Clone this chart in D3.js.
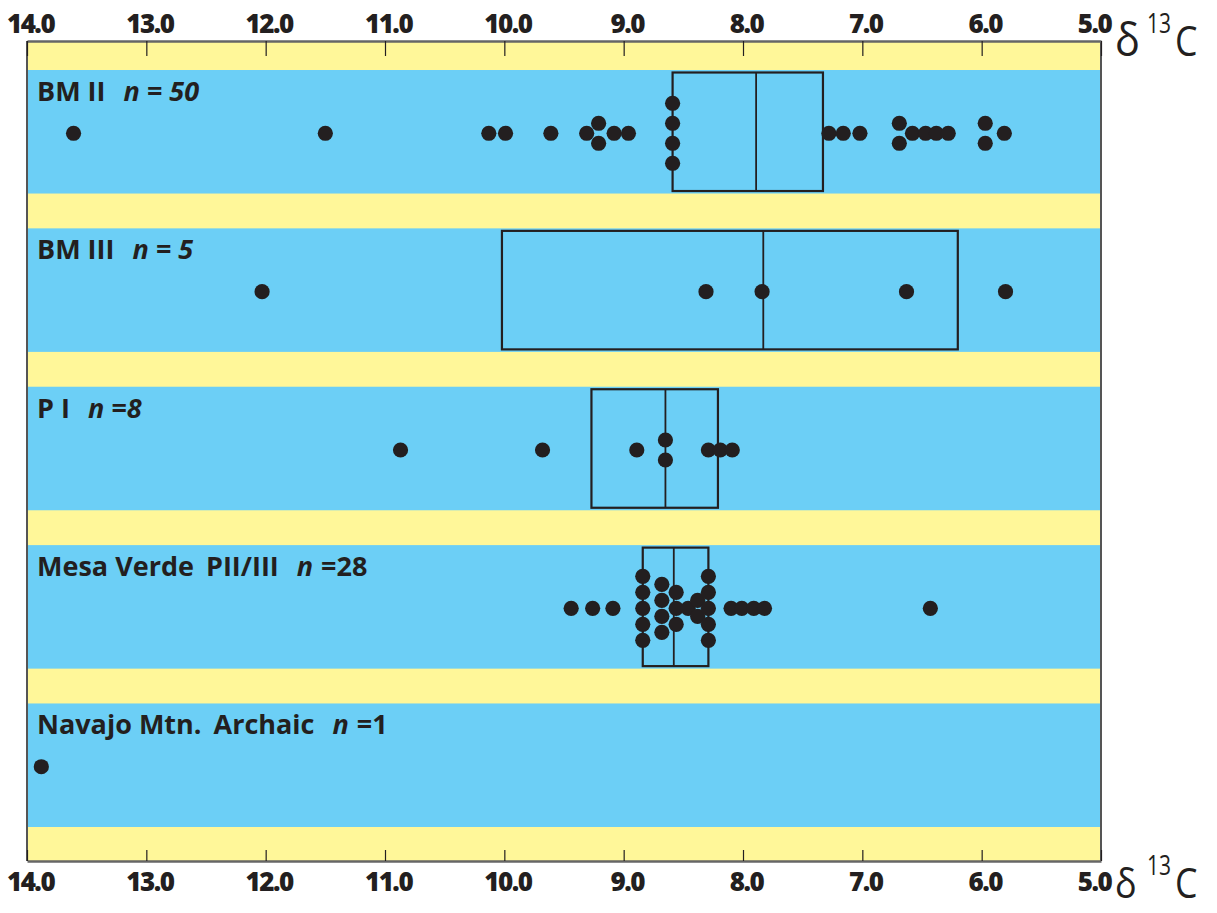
<!DOCTYPE html>
<html>
<head>
<meta charset="utf-8">
<script src="https://cdn.jsdelivr.net/npm/d3@7"></script>
<style>
  body { margin: 0; background: #fff; }
  svg { display: block; }
  text { font-family: 'Open Sans', sans-serif; fill: #231f20; }
</style>
</head>
<body>
<svg id="chart" width="1217" height="913"></svg>
<script>
// rows, top to bottom
const groups = ['BM II', 'BM III', 'P I', 'Mesa Verde PII/III', 'Navajo Mtn. Archaic'];
const labelNames = [['BM II'], ['BM III'], ['P I'], ['Mesa Verde', 'PII/III'], ['Navajo Mtn.', 'Archaic']];
const labelN = [['n = 50', ''], ['n = 5', ''], ['n =8', ''], ['n', '=28'], ['n', '=1']];

// d13C values (per mil, negated)
const bmII = [13.61, 11.50, 10.13, 9.99, 9.61, 9.31, 9.21, 9.21, 9.08, 8.96,
  8.59, 8.59, 8.59, 8.59, 7.28, 7.16, 7.02, 6.69, 6.69, 6.58, 6.47, 6.38, 6.28,
  5.97, 5.97, 5.81];
const bmIII = [12.03, 8.31, 7.84, 6.63, 5.80];
const pI = [10.87, 9.68, 8.89, 8.65, 8.65, 8.29, 8.19, 8.09];
const mesaVerde = [9.44, 9.26, 9.09, 8.84, 8.84, 8.84, 8.84, 8.84,
  8.68, 8.68, 8.68, 8.68, 8.56, 8.56, 8.56, 8.46, 8.38, 8.38,
  8.29, 8.29, 8.29, 8.29, 8.29, 8.10, 8.01, 7.91, 7.82, 6.43];
const navajo = [13.88];
const seriesValues = [bmII, bmIII, pI, mesaVerde, navajo];

// box stats (q1 = lower quartile on the left, q3 upper)
const boxQ1 = [8.59, 10.02, 9.27, 8.84, null];
const boxMedian = [7.89, 7.83, 8.65, 8.58, null];
const boxQ3 = [7.33, 6.20, 8.21, 8.29, null];

const tickValues = [14, 13, 12, 11, 10, 9, 8, 7, 6, 5];

// vertical step between stacked equal dots, per row
const stackStep = [20, 20, 20, 16, 20];

const svg = d3.select('#chart');
const yellow = '#fff799', blue = '#6ccff6', ink = '#231f20';
const yTop = 41, yBottom = 861;

const x = d3.scaleLinear().domain([14, 5]).range([27, 1101]);
const y = d3.scaleBand().domain(groups).range([70, 827]).paddingInner(0.22).paddingOuter(0);

// background
svg.append('rect')
  .attr('x', x(14)).attr('y', yTop)
  .attr('width', x(5) - x(14)).attr('height', yBottom - yTop)
  .attr('fill', yellow);

svg.selectAll('rect.band')
  .data(groups)
  .enter().append('rect')
  .attr('class', 'band')
  .attr('x', x(14) + 1).attr('y', d => y(d))
  .attr('width', x(5) - x(14) - 1).attr('height', y.bandwidth())
  .attr('fill', blue);

// side borders
svg.selectAll('line.border')
  .data([14, 5])
  .enter().append('line')
  .attr('class', 'border')
  .attr('x1', d => x(d)).attr('x2', d => x(d))
  .attr('y1', yTop).attr('y2', yBottom)
  .attr('stroke', '#555').attr('stroke-width', 2);

// boxes
const boxes = groups.map((g, i) => ({g, q1: boxQ1[i], med: boxMedian[i], q3: boxQ3[i]}))
  .filter(d => d.q1 != null);
const inset = 2.5;
const boxG = svg.selectAll('g.box').data(boxes).enter().append('g').attr('class', 'box');
boxG.append('rect')
  .attr('x', d => x(d.q1)).attr('y', d => y(d.g) + inset)
  .attr('width', d => x(d.q3) - x(d.q1)).attr('height', y.bandwidth() - 2 * inset)
  .attr('fill', 'none').attr('stroke', ink).attr('stroke-width', 2.2);
boxG.append('line')
  .attr('x1', d => x(d.med)).attr('x2', d => x(d.med))
  .attr('y1', d => y(d.g) + inset).attr('y2', d => y(d.g) + y.bandwidth() - inset)
  .attr('stroke', ink).attr('stroke-width', 1.8);

// dots, equal values stacked symmetrically
function stackDots(values, step) {
  const counts = d3.rollup(values, v => v.length, d => d);
  const seen = new Map();
  return values.map(v => {
    const k = counts.get(v), i = seen.get(v) || 0;
    seen.set(v, i + 1);
    return {v, off: (i - (k - 1) / 2) * step};
  });
}

groups.forEach((g, i) => {
  const cy = y(g) + y.bandwidth() / 2 + 1.5;
  svg.append('g').selectAll('circle')
    .data(stackDots(seriesValues[i], stackStep[i]))
    .enter().append('circle')
    .attr('cx', d => x(d.v))
    .attr('cy', d => cy + d.off)
    .attr('r', 7.6)
    .attr('fill', ink);
});

// row labels
groups.forEach((g, i) => {
  const t = svg.append('text')
    .attr('x', 37).attr('y', y(g) + 31)
    .style('font-size', '27px').style('font-weight', 700);
  labelNames[i].forEach((s, j) => {
    t.append('tspan').attr('dx', j ? 12 : 0).text(s);
  });
  t.append('tspan').attr('dx', 18).style('font-style', 'italic').text(labelN[i][0]);
  if (labelN[i][1]) t.append('tspan').attr('dx', 8).text(labelN[i][1]);
});

// axes
const fmt = d3.format('.1f');
const axTop = svg.append('g')
  .attr('transform', `translate(0,${yTop})`)
  .call(d3.axisTop(x).tickValues(tickValues).tickFormat(fmt).tickSize(-15).tickSizeOuter(0).tickPadding(8));
const axBot = svg.append('g')
  .attr('transform', `translate(0,${yBottom})`)
  .call(d3.axisBottom(x).tickValues(tickValues).tickFormat(fmt).tickSize(-11).tickSizeOuter(0).tickPadding(12));

[axTop, axBot].forEach(ax => {
  ax.select('.domain').attr('stroke', '#666').attr('stroke-width', 2.5);
  ax.selectAll('.tick line').attr('stroke', ink).attr('stroke-width', 1.2);
  ax.selectAll('.tick text')
    .attr('fill', ink)
    .attr('dx', d => d === 5 ? -7 : 3)
    .style('font-family', "'Open Sans', sans-serif")
    .style('font-size', '26px').style('font-weight', 800)
    .style('letter-spacing', '-1.5px');
});

// delta 13 C unit label
function deltaLabel(baseline, size) {
  const gl = svg.append('g').style('font-weight', 400);
  gl.append('text')
    .attr('transform', `translate(1115,${baseline}) scale(0.9,1)`)
    .style('font-size', size + 'px').text('δ');
  gl.append('text')
    .attr('transform', `translate(1147,${baseline - 23}) scale(0.75,1)`)
    .style('font-size', '28px').text('13');
  gl.append('text')
    .attr('transform', `translate(1175,${baseline}) scale(0.85,1)`)
    .style('font-size', '42px').text('C');
}
deltaLabel(56, 46);
deltaLabel(898, 40);
</script>
</body>
</html>
